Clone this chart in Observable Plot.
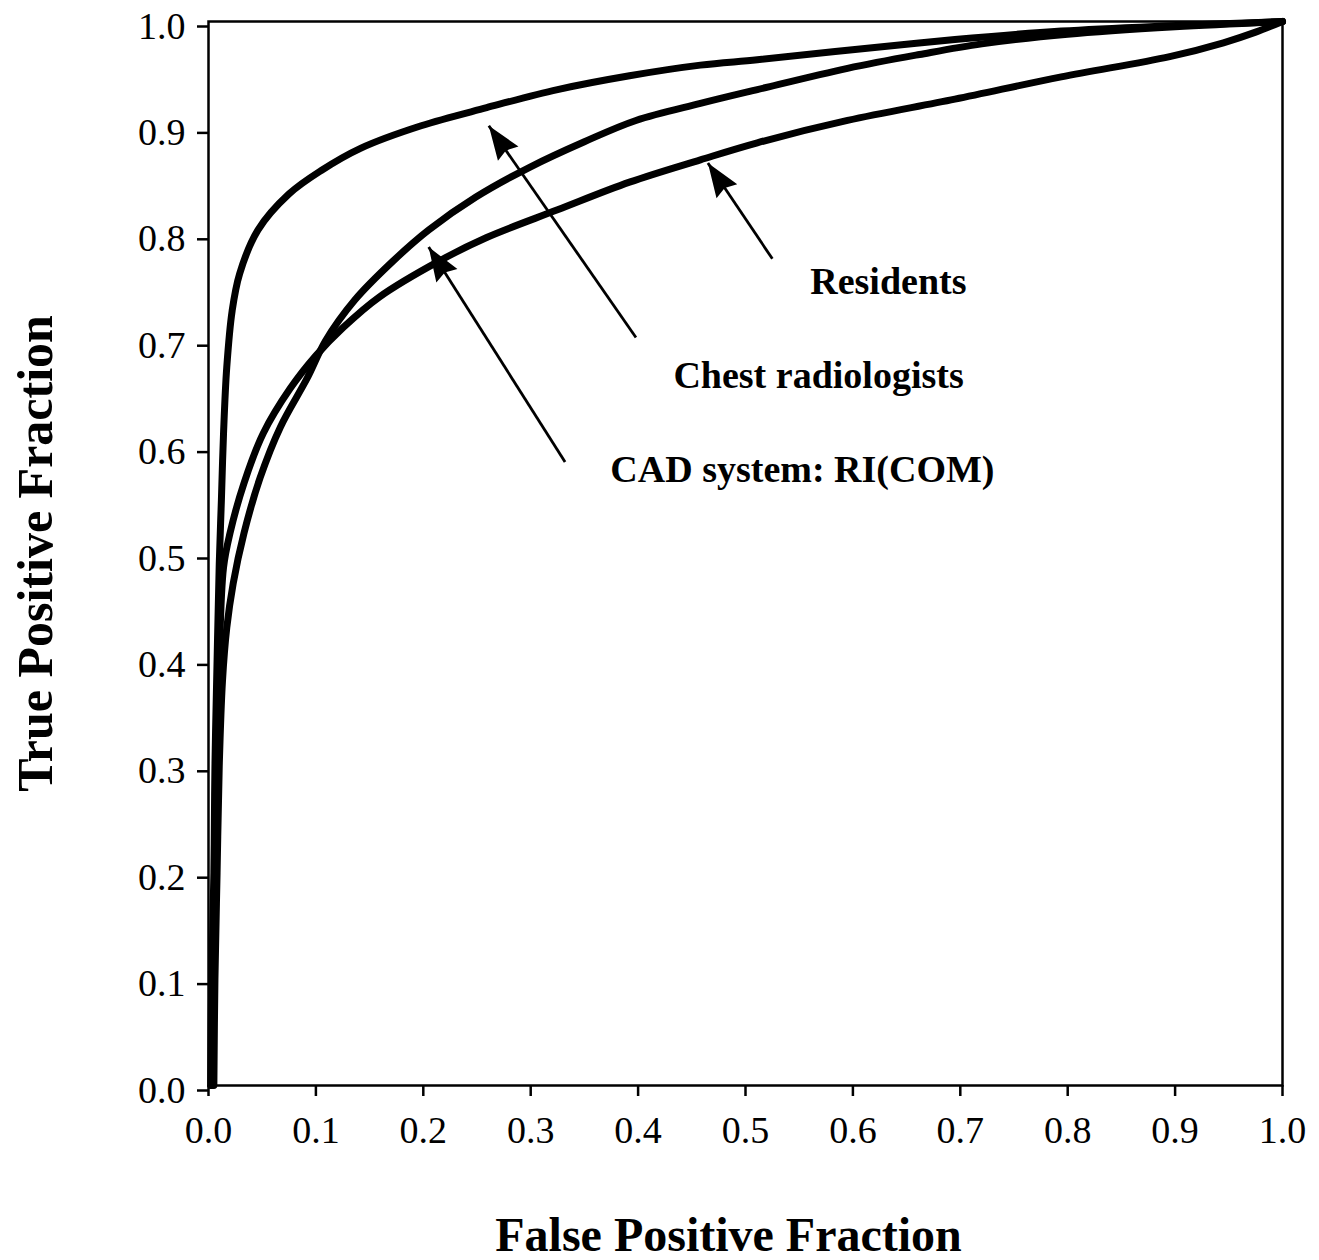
<!DOCTYPE html>
<html>
<head>
<meta charset="utf-8">
<script src="https://cdn.jsdelivr.net/npm/d3@7"></script>
<script src="https://cdn.jsdelivr.net/npm/@observablehq/plot@0.6"></script>
<style>
  html, body { margin: 0; padding: 0; background: #fff; }
  #chart svg { display: block; }
</style>
</head>
<body>
<div id="chart"></div>
<script>
// ROC curves: [false positive fraction, true positive fraction]
const chestRadiologists = [
  [0.002, 0.0], [0.003, 0.1], [0.005, 0.2], [0.006, 0.3], [0.008, 0.4],
  [0.010, 0.49], [0.012, 0.55], [0.014, 0.613], [0.017, 0.675], [0.022, 0.728],
  [0.029, 0.763], [0.046, 0.804], [0.075, 0.838], [0.105, 0.860], [0.142, 0.881],
  [0.198, 0.902], [0.259, 0.919], [0.325, 0.936], [0.392, 0.949], [0.458, 0.959],
  [0.511, 0.964], [0.595, 0.973], [0.695, 0.983], [0.794, 0.991], [0.895, 0.996],
  [1.0, 1.0]
];
const cadSystem = [
  [0.005, 0.0], [0.006, 0.1], [0.008, 0.2], [0.010, 0.3], [0.013, 0.38],
  [0.017, 0.43], [0.023, 0.472], [0.033, 0.519], [0.048, 0.571], [0.067, 0.619],
  [0.092, 0.665], [0.109, 0.700], [0.136, 0.738], [0.172, 0.775], [0.205, 0.804],
  [0.249, 0.835], [0.299, 0.863], [0.350, 0.887], [0.398, 0.907], [0.458, 0.923],
  [0.511, 0.936], [0.595, 0.956], [0.662, 0.969], [0.720, 0.979], [0.800, 0.988],
  [0.900, 0.995], [1.0, 1.0]
];
const residents = [
  [0.003, 0.0], [0.004, 0.1], [0.006, 0.2], [0.008, 0.3], [0.010, 0.4],
  [0.014, 0.487], [0.020, 0.519], [0.033, 0.566], [0.051, 0.613], [0.076, 0.655],
  [0.100, 0.686], [0.125, 0.712], [0.159, 0.741], [0.215, 0.775], [0.259, 0.797],
  [0.325, 0.823], [0.392, 0.849], [0.458, 0.870], [0.511, 0.886], [0.595, 0.907],
  [0.695, 0.927], [0.794, 0.948], [0.895, 0.967], [0.945, 0.980], [0.975, 0.990],
  [1.0, 1.0]
];

// Axis ticks
const axisTicks = [0.0, 0.1, 0.2, 0.3, 0.4, 0.5, 0.6, 0.7, 0.8, 0.9, 1.0];

// Curve labels and their pointer arrows (tail x1,y1 -> tip x2,y2), in data units
const labelNames = ["Residents", "Chest radiologists", "CAD system: RI(COM)"];
const labelX = [0.633, 0.568, 0.553];
const labelY = [0.755, 0.667, 0.579];
const arrowFrom = [[0.525, 0.777], [0.398, 0.703], [0.332, 0.586]];
const arrowTo = [[0.465, 0.867], [0.261, 0.902], [0.205, 0.788]];

// Layout
const width = 1319, height = 1260;
const margin = {top: 21, right: 37, bottom: 175, left: 208};
const innerW = width - margin.left - margin.right;
const innerH = height - margin.top - margin.bottom;

const labels = labelNames.map((name, i) => ({name, x: labelX[i], y: labelY[i]}));
const arrows = labelNames.map((name, i) => {
  const [x1, y1] = arrowFrom[i], [x2, y2] = arrowTo[i];
  // direction of the arrow on screen, clockwise from "up"
  const dx = (x2 - x1) * innerW, dy = -(y2 - y1) * innerH;
  const angle = Math.atan2(dx, -dy) * 180 / Math.PI;
  return {name, x1, y1, x2, y2, angle};
});

// Filled arrowhead: tip at the origin, pointing up
const arrowHead = {
  draw(context) {
    const L = 34, W = 25;
    context.moveTo(0, 0);
    context.lineTo(-W / 2, L);
    context.lineTo(0, L - 4);
    context.lineTo(W / 2, L);
    context.closePath();
  }
};

const font = "'Liberation Serif', 'Times New Roman', Times, serif";
const lineStyle = {stroke: "black", strokeWidth: 7, curve: "catmull-rom", strokeLinejoin: "round", strokeLinecap: "round"};

const chart = Plot.plot({
  width, height,
  marginTop: margin.top, marginRight: margin.right,
  marginBottom: margin.bottom, marginLeft: margin.left,
  style: {fontFamily: font, fontSize: "38px", color: "black", background: "white", overflow: "visible"},
  x: {domain: [0, 1]},
  y: {domain: [0, 1]},
  marks: [
    Plot.axisX({ticks: axisTicks, tickFormat: d3.format(".1f"), tickSize: 11, tickPadding: 20,
      strokeWidth: 2.5, label: null, fontSize: 38}),
    Plot.axisY({ticks: axisTicks, tickFormat: d3.format(".1f"), tickSize: 11, tickPadding: 12,
      strokeWidth: 2.5, label: null, fontSize: 38, dy: 5}),
    Plot.frame({stroke: "black", strokeWidth: 2.5}),
    Plot.line(residents, {x: d => d[0], y: d => d[1], ...lineStyle}),
    Plot.line(cadSystem, {x: d => d[0], y: d => d[1], ...lineStyle}),
    Plot.line(chestRadiologists, {x: d => d[0], y: d => d[1], ...lineStyle}),
    Plot.link(arrows, {x1: "x1", y1: "y1", x2: "x2", y2: "y2", stroke: "black", strokeWidth: 2.8}),
    Plot.dot(arrows, {x: "x2", y: "y2", rotate: "angle", symbol: arrowHead, r: 10, fill: "black", stroke: "none"}),
    Plot.text(labels, {x: "x", y: "y", text: "name", fontSize: 38, fontWeight: "bold", textAnchor: "middle", lineAnchor: "middle"}),
    Plot.text(["False Positive Fraction"], {frameAnchor: "bottom", dx: -17, dy: 150, fontSize: 48, fontWeight: "bold", textAnchor: "middle", lineAnchor: "middle"}),
    Plot.text(["True Positive Fraction"], {frameAnchor: "left", dx: -173, rotate: -90, fontSize: 50, fontWeight: "bold", textAnchor: "middle", lineAnchor: "middle"})
  ]
});

document.getElementById("chart").appendChild(chart);
</script>
</body>
</html>
